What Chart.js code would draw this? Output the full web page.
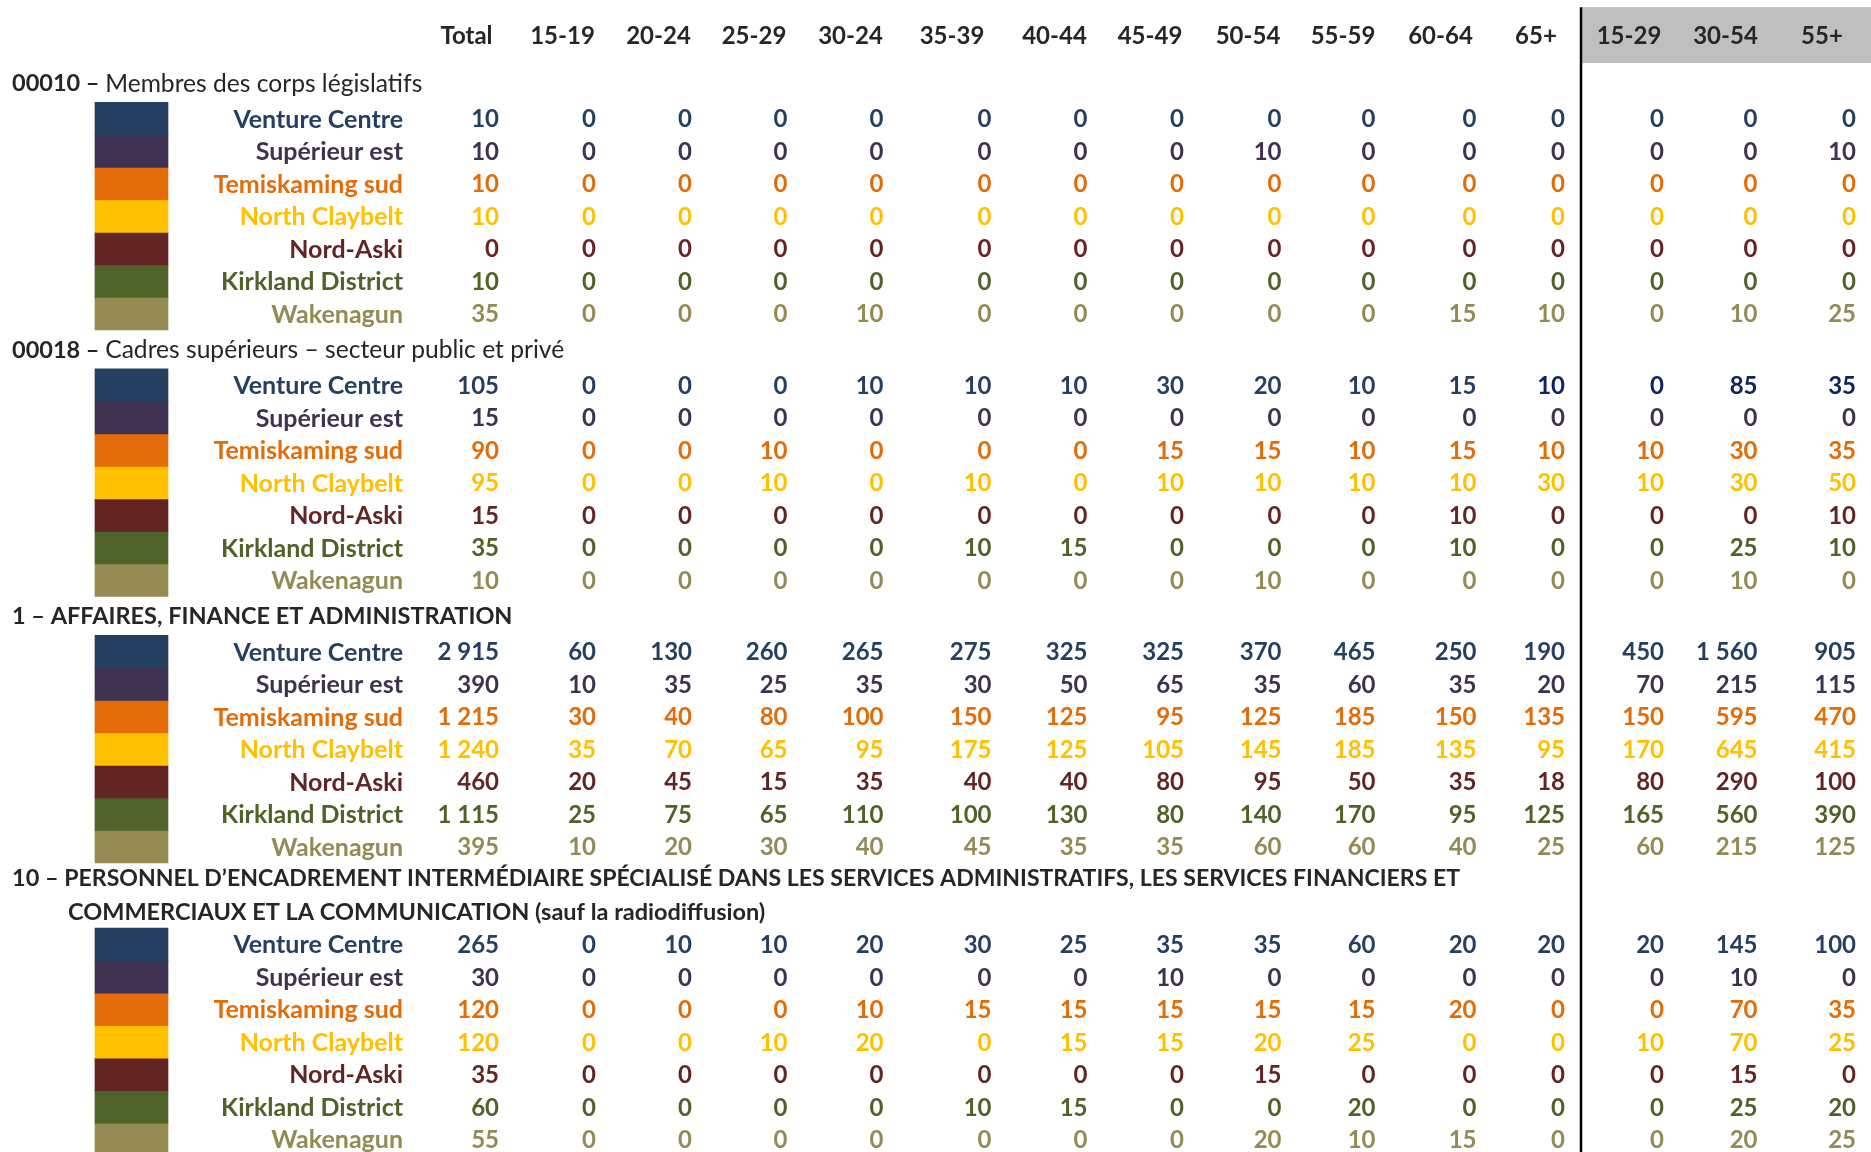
<!DOCTYPE html>
<html lang="fr">
<head>
<meta charset="utf-8">
<title>Professions par groupe d'âge</title>
<script src="https://cdn.jsdelivr.net/npm/chart.js@4.4.0/dist/chart.umd.min.js"></script>
<style>
  html, body { margin: 0; padding: 0; background: #fff; }
  #wrap { width: 1871px; height: 1152px; position: relative; }
</style>
</head>
<body>
<div id="wrap"><canvas id="chart"></canvas></div>
<script>
// ---------- data ----------
const columns = ["Total","15-19","20-24","25-29","30-24","35-39","40-44","45-49","50-54","55-59","60-64","65+","15-29","30-54","55+"];
const regions = ["Venture Centre","Supérieur est","Temiskaming sud","North Claybelt","Nord-Aski","Kirkland District","Wakenagun"];
const sectionCodes = ["00010","00018","1","10"];
const sectionNames = [
  ["Membres des corps législatifs"],
  ["Cadres supérieurs – secteur public et privé"],
  ["AFFAIRES, FINANCE ET ADMINISTRATION"],
  ["PERSONNEL D’ENCADREMENT INTERMÉDIAIRE SPÉCIALISÉ DANS LES SERVICES ADMINISTRATIFS, LES SERVICES FINANCIERS ET",
   "COMMERCIAUX ET LA COMMUNICATION (sauf la radiodiffusion)"]
];

// one row per region, one value per column (Total ... 55+)
const legislateurs = [
  [10, 0,0,0,0,0,0,0,0,0,0,0, 0,0,0],
  [10, 0,0,0,0,0,0,0,10,0,0,0, 0,0,10],
  [10, 0,0,0,0,0,0,0,0,0,0,0, 0,0,0],
  [10, 0,0,0,0,0,0,0,0,0,0,0, 0,0,0],
  [0, 0,0,0,0,0,0,0,0,0,0,0, 0,0,0],
  [10, 0,0,0,0,0,0,0,0,0,0,0, 0,0,0],
  [35, 0,0,0,10,0,0,0,0,0,15,10, 0,10,25]
];
const cadresSup = [
  [105, 0,0,0,10,10,10,30,20,10,15,10, 0,85,35],
  [15, 0,0,0,0,0,0,0,0,0,0,0, 0,0,0],
  [90, 0,0,10,0,0,0,15,15,10,15,10, 10,30,35],
  [95, 0,0,10,0,10,0,10,10,10,10,30, 10,30,50],
  [15, 0,0,0,0,0,0,0,0,0,10,0, 0,0,10],
  [35, 0,0,0,0,10,15,0,0,0,10,0, 0,25,10],
  [10, 0,0,0,0,0,0,0,10,0,0,0, 0,10,0]
];
const affaires = [
  [2915, 60,130,260,265,275,325,325,370,465,250,190, 450,1560,905],
  [390, 10,35,25,35,30,50,65,35,60,35,20, 70,215,115],
  [1215, 30,40,80,100,150,125,95,125,185,150,135, 150,595,470],
  [1240, 35,70,65,95,175,125,105,145,185,135,95, 170,645,415],
  [460, 20,45,15,35,40,40,80,95,50,35,18, 80,290,100],
  [1115, 25,75,65,110,100,130,80,140,170,95,125, 165,560,390],
  [395, 10,20,30,40,45,35,35,60,60,40,25, 60,215,125]
];
const encadrement = [
  [265, 0,10,10,20,30,25,35,35,60,20,20, 20,145,100],
  [30, 0,0,0,0,0,0,10,0,0,0,0, 0,10,0],
  [120, 0,0,0,10,15,15,15,15,15,20,0, 0,70,35],
  [120, 0,0,10,20,0,15,15,20,25,0,0, 10,70,25],
  [35, 0,0,0,0,0,0,0,15,0,0,0, 0,15,0],
  [60, 0,0,0,0,10,15,0,0,20,0,0, 0,25,20],
  [55, 0,0,0,0,0,0,0,20,10,15,0, 0,20,25]
];
const sectionValues = [legislateurs, cadresSup, affaires, encadrement];

// ---------- layout / style ----------
const regionColors = ["#243F60","#3F3151","#E36C09","#FFC000","#632523","#4F6228","#948A54"];
// a few cells in the reference use a deeper navy
const navyCells = [[1, 0, 11], [1, 0, 12], [1, 0, 13], [1, 0, 14]];
const NAVY = "#0F2563";
const nameBold = [false, false, true, true];
const colRight = [499,596,692,787.5,883.5,991.5,1087.5,1184,1281.5,1375.5,1476.5,1565,1664,1757.5,1856];
const headCenter = [466.5,562.5,658.5,754,850.5,952,1054.5,1150,1248,1343,1440.5,1536,1629,1725.5,1822];
const LABEL_RIGHT = 403, SWATCH_LEFT = 95, SWATCH_RIGHT = 168;
const TITLE_LEFT = 12, TITLE_INDENT = 68, TITLE_MAX_RIGHT = 1460, DIVIDER_X = 1581;
const PAGE_W = 1871, PAGE_H = 1152, ROW_PX = 32.5;
const FONT = "Lato, 'Open Sans', sans-serif";
const TEXT_DARK = "#262626";
const SIZE_HEAD = 24, SIZE_TITLE = 23.5, SIZE_TITLE_REG = 24.6, SIZE_LABEL = 25, SIZE_NUM = 24;

// rows in row units (1 unit = one data line)
const HEADER_Y = 1.08;
const titleRows = [], dataRows = [];
let y = HEADER_Y + 1.47;
sectionNames.forEach((lines, s) => {
  const extra = lines.length - 1;
  if (s > 0) y += 1.1 - 0.15 * extra;
  titleRows.push(lines.map((_, i) => y + i * 1.04));
  y += extra * 1.04 + 1.1 - 0.08 * extra;
  dataRows.push(regions.map((_, r) => y + r));
  y += regions.length - 1;
});

function fmt(n){
  if (n >= 1000) return Math.floor(n / 1000) + " " + String(n % 1000).padStart(3, "0");
  return String(n);
}

function cellColor(s, r, c){
  return navyCells.some(([a, b, d]) => a === s && b === r && d === c) ? NAVY : regionColors[r];
}

// text centred on a row: alphabetic baseline pushed down by half the cap height
function put(ctx, txt, x, yPx, align, size, weight, color, maxW){
  ctx.font = weight + " " + size + "px " + FONT;
  ctx.textAlign = align;
  ctx.textBaseline = "alphabetic";
  ctx.fillStyle = color;
  const w = ctx.measureText(txt).width;
  if (maxW && w > maxW) { ctx.fillText(txt, x, yPx + size * 0.358, maxW); return maxW; }
  ctx.fillText(txt, x, yPx + size * 0.358);
  return w;
}

const tablePlugin = {
  id: "tableText",
  beforeDatasetsDraw(chart){
    const {ctx, scales: {x: xs, y: ys}} = chart;
    ctx.save();
    // grey band behind the grouped age columns
    const top = ys.getPixelForValue(HEADER_Y - 0.86), bot = ys.getPixelForValue(HEADER_Y + 0.86);
    const left = xs.getPixelForValue(DIVIDER_X), right = xs.getPixelForValue(PAGE_W);
    ctx.fillStyle = "#BFBFBF";
    ctx.fillRect(left, top, right - left, bot - top);
    // divider
    ctx.strokeStyle = "#000";
    ctx.lineWidth = 2.5;
    ctx.beginPath();
    ctx.moveTo(left, top);
    ctx.lineTo(left, ys.getPixelForValue(PAGE_H / ROW_PX));
    ctx.stroke();
    ctx.restore();
  },
  afterDatasetsDraw(chart){
    const {ctx, scales: {x: xs, y: ys}} = chart;
    ctx.save();
    // column headers
    const hy = ys.getPixelForValue(HEADER_Y);
    columns.forEach((c, i) => put(ctx, c, xs.getPixelForValue(headCenter[i]), hy, "center", SIZE_HEAD, "bold", TEXT_DARK));

    sectionNames.forEach((lines, s) => {
      // section titles
      const weight = nameBold[s] ? "bold" : "normal";
      const nameSize = nameBold[s] ? SIZE_TITLE : SIZE_TITLE_REG;
      lines.forEach((line, li) => {
        const ty = ys.getPixelForValue(titleRows[s][li]);
        if (li === 0) {
          const x0 = xs.getPixelForValue(TITLE_LEFT);
          const w = put(ctx, sectionCodes[s] + " – ", x0, ty, "left", SIZE_TITLE, "bold", TEXT_DARK);
          put(ctx, line, x0 + w, ty, "left", nameSize, weight, TEXT_DARK,
              xs.getPixelForValue(TITLE_MAX_RIGHT) - x0 - w);
        } else {
          put(ctx, line, xs.getPixelForValue(TITLE_INDENT), ty, "left", nameSize, weight, TEXT_DARK);
        }
      });
      // region rows
      regions.forEach((name, r) => {
        const ry = ys.getPixelForValue(dataRows[s][r]);
        put(ctx, name, xs.getPixelForValue(LABEL_RIGHT), ry, "right", SIZE_LABEL, "bold", regionColors[r]);
        sectionValues[s][r].forEach((v, c) => {
          put(ctx, fmt(v), xs.getPixelForValue(colRight[c]), ry, "right", SIZE_NUM, "bold", cellColor(s, r, c));
        });
      });
    });
    ctx.restore();
  }
};

// colour swatches: one floating bar per region and section, one row high
const datasets = regions.map((name, r) => ({
  label: name,
  data: dataRows.map(rows => ({ x: (SWATCH_LEFT + SWATCH_RIGHT) / 2, y: [rows[r] - 0.5, rows[r] + 0.5] })),
  backgroundColor: regionColors[r],
  borderWidth: 0,
  barThickness: SWATCH_RIGHT - SWATCH_LEFT,
  grouped: false
}));

new Chart(document.getElementById("chart"), {
  type: "bar",
  data: { datasets },
  options: {
    responsive: true,
    maintainAspectRatio: false,
    animation: false,
    layout: { padding: 0 },
    plugins: { legend: { display: false }, tooltip: { enabled: false } },
    scales: {
      x: { type: "linear", min: 0, max: PAGE_W, offset: false, display: false },
      y: { type: "linear", min: 0, max: PAGE_H / ROW_PX, reverse: true, display: false }
    }
  },
  plugins: [tablePlugin]
});
</script>
</body>
</html>
